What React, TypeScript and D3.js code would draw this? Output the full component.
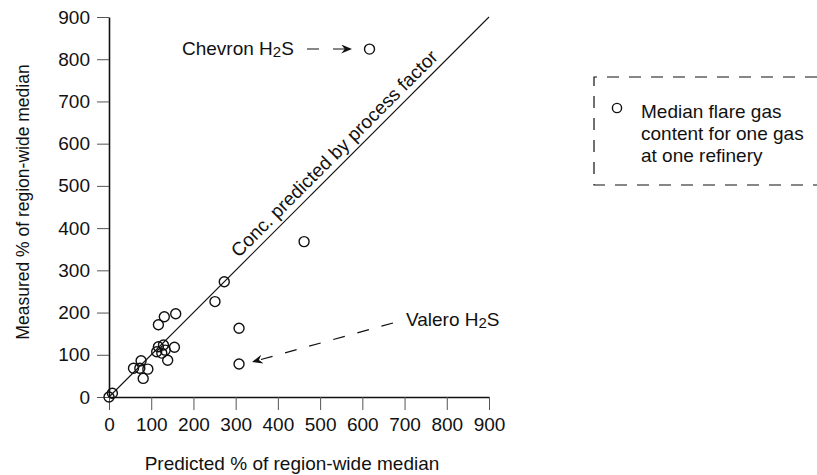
import React, { useEffect, useRef } from "react";
import * as d3 from "d3";

// predicted vs measured (% of region-wide median), one point per gas per refinery
const predicted = [0, 8, 58, 73, 76, 81, 92, 113, 117, 117, 125, 129, 131, 133, 139, 155, 158, 251, 273, 308, 308, 462, 617];
const measured = [0, 9, 68, 68, 86, 44, 66, 107, 119, 171, 104, 123, 190, 111, 87, 118, 197, 226, 273, 163, 78, 368, 824];
const ticks = [0, 100, 200, 300, 400, 500, 600, 700, 800, 900];
const legendLines = ["Median flare gas", "content for one gas", "at one refinery"];

const App = () => {
  const svgRef = useRef<SVGSVGElement>(null);
  const width = 817;
  const height = 475;

  useEffect(() => {
    const svg = d3.select(svgRef.current);
    svg.selectAll("*").remove();
    svg.attr("width", width).attr("height", height);

    const font = "Liberation Sans, Arial, sans-serif";
    const fs = 19;
    const x = d3.scaleLinear().domain([0, 900]).range([109, 489]);
    const y = d3.scaleLinear().domain([0, 900]).range([397, 17]);

    // arrow marker
    svg
      .append("defs")
      .append("marker")
      .attr("id", "arrow")
      .attr("viewBox", "0 0 12 10")
      .attr("refX", 12)
      .attr("refY", 5)
      .attr("markerWidth", 12)
      .attr("markerHeight", 9)
      .attr("markerUnits", "userSpaceOnUse")
      .attr("orient", "auto")
      .append("path")
      .attr("d", "M0,0 L12,5 L0,10 L4,5 Z")
      .attr("fill", "#111");

    // axes
    const xAxis = svg
      .append("g")
      .attr("transform", `translate(0,${y(0)})`)
      .call(d3.axisBottom(x).tickValues(ticks).tickSize(13).tickPadding(8).tickSizeOuter(0));
    const yAxis = svg
      .append("g")
      .attr("transform", `translate(${x(0)},0)`)
      .call(d3.axisLeft(y).tickValues(ticks).tickSize(12).tickPadding(7).tickSizeOuter(0));

    [xAxis, yAxis].forEach((g) => {
      g.select(".domain").attr("stroke", "#111").attr("stroke-width", 1.6);
      g.selectAll(".tick line").attr("stroke", "#555").attr("stroke-width", 1);
      g.selectAll(".tick text")
        .attr("font-family", font)
        .attr("font-size", fs)
        .attr("fill", "#111");
    });

    // axis titles
    svg
      .append("text")
      .attr("x", 292)
      .attr("y", 470)
      .attr("text-anchor", "middle")
      .attr("font-family", font)
      .attr("font-size", fs)
      .attr("fill", "#111")
      .text("Predicted % of region-wide median");
    svg
      .append("text")
      .attr("transform", `translate(29,${202}) rotate(-90)`)
      .attr("text-anchor", "middle")
      .attr("font-family", font)
      .attr("font-size", 17.5)
      .attr("fill", "#111")
      .text("Measured % of region-wide median");

    // 1:1 line
    svg
      .append("line")
      .attr("x1", x(0))
      .attr("y1", y(0))
      .attr("x2", x(900))
      .attr("y2", y(900))
      .attr("stroke", "#111")
      .attr("stroke-width", 1.1);
    svg
      .append("text")
      .attr("transform", `translate(${x(318) - 4.5},${y(318) - 4.5}) rotate(-45)`)
      .attr("font-family", font)
      .attr("font-size", fs)
      .attr("fill", "#111")
      .text("Conc. predicted by process factor");

    // points
    svg
      .append("g")
      .selectAll("circle")
      .data(predicted.map((p, i) => [p, measured[i]]))
      .enter()
      .append("circle")
      .attr("cx", (d) => x(d[0]))
      .attr("cy", (d) => y(d[1]))
      .attr("r", 5)
      .attr("fill", "none")
      .attr("stroke", "#111")
      .attr("stroke-width", 1.4);

    // annotations
    const label = (tx: number, ty: number, name: string) => {
      const t = svg
        .append("text")
        .attr("x", tx)
        .attr("y", ty)
        .attr("font-family", font)
        .attr("font-size", fs)
        .attr("fill", "#111");
      t.append("tspan").text(name + " H");
      t.append("tspan").attr("font-size", 15).attr("dy", 2).text("2");
      t.append("tspan").attr("dy", -2).text("S");
    };
    label(182, 55, "Chevron");
    svg
      .append("line")
      .attr("x1", 307)
      .attr("y1", 49)
      .attr("x2", 352)
      .attr("y2", 49)
      .attr("stroke", "#111")
      .attr("stroke-width", 1.2)
      .attr("stroke-dasharray", "12,14")
      .attr("marker-end", "url(#arrow)");

    label(406, 326, "Valero");
    svg
      .append("line")
      .attr("x1", 393)
      .attr("y1", 323)
      .attr("x2", 252)
      .attr("y2", 362)
      .attr("stroke", "#111")
      .attr("stroke-width", 1.2)
      .attr("stroke-dasharray", "12,13")
      .attr("marker-end", "url(#arrow)");

    // legend
    const lg = svg.append("g");
    lg.append("path")
      .attr("d", "M817,77 H594 V185 H817")
      .attr("fill", "none")
      .attr("stroke", "#111")
      .attr("stroke-width", 1.2)
      .attr("stroke-dasharray", "12,10");
    lg.append("circle")
      .attr("cx", 617)
      .attr("cy", 108)
      .attr("r", 4.6)
      .attr("fill", "none")
      .attr("stroke", "#111")
      .attr("stroke-width", 1.4);
    lg.selectAll("text.leg")
      .data(legendLines)
      .enter()
      .append("text")
      .attr("class", "leg")
      .attr("x", 641)
      .attr("y", (d, i) => 117.5 + i * 22)
      .attr("font-family", font)
      .attr("font-size", fs)
      .attr("fill", "#111")
      .text((d) => d);
  }, []);

  return <svg ref={svgRef} style={{ position: "absolute", left: 0, top: 0, background: "#fff" }}></svg>;
};

export default App;
